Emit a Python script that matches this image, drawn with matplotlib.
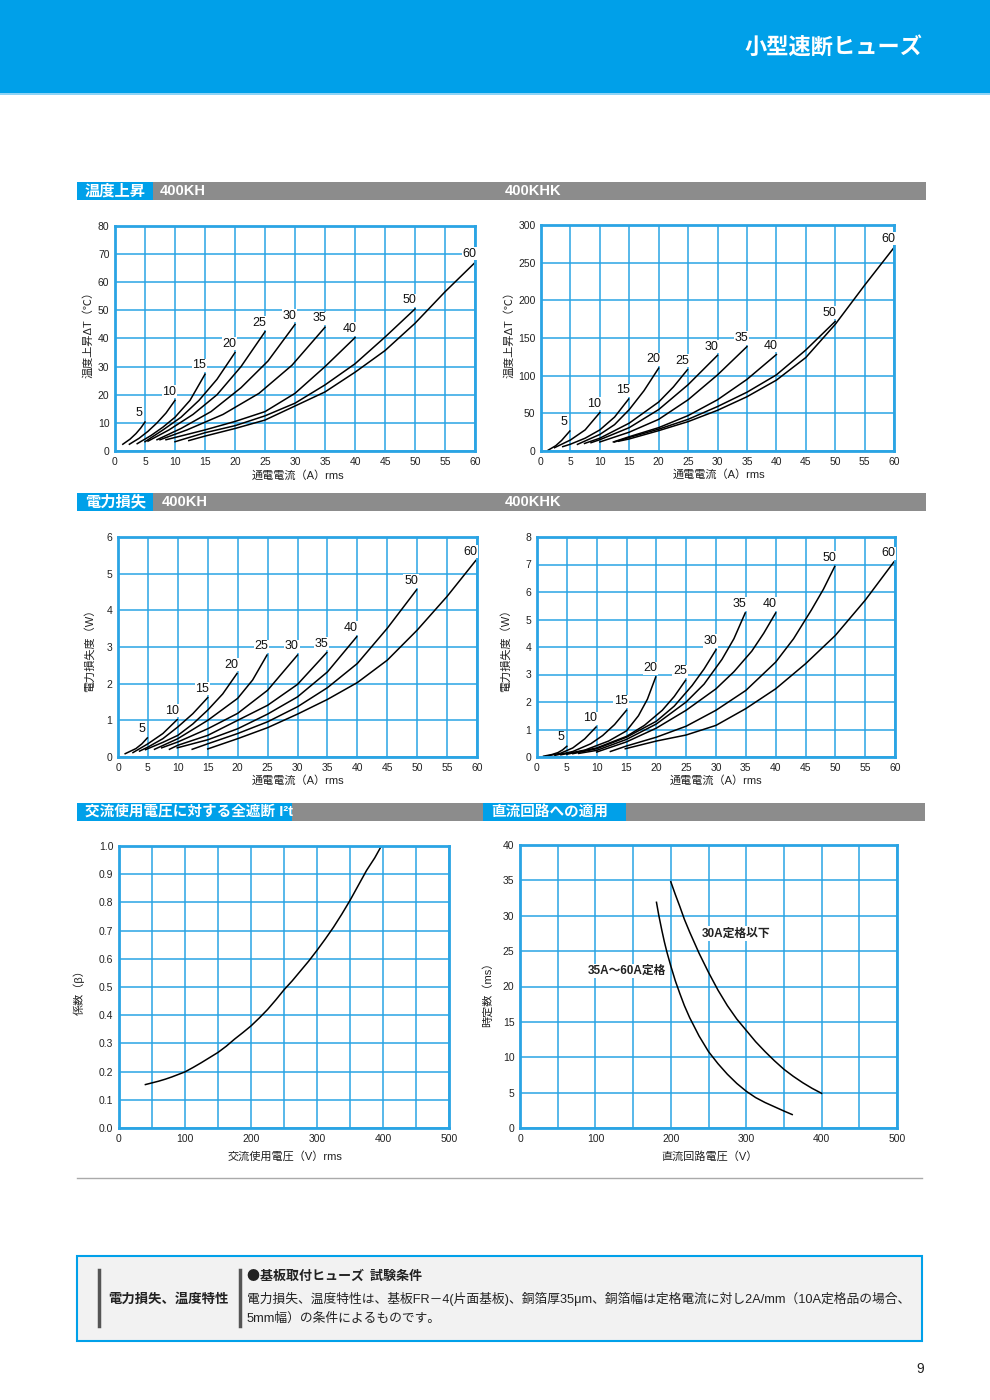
import numpy as np
import matplotlib
matplotlib.use('Agg')
from matplotlib import pyplot as plt
from matplotlib.patches import Rectangle
from matplotlib.ticker import FormatStrFormatter

plt.rcParams['font.family'] = ['Liberation Sans', 'Noto Sans CJK JP', 'DejaVu Sans']

W, H = 990, 1400
BLUE = '#00a0e9'
GRID = '#2aa4e4'
GRAY = '#8c8c8c'

# rating (A) -> (current A, value)
kh_temp = {
    5: ([1.3, 2.5, 3.5, 4.3, 5.0], [2.4, 4.2, 6.2, 8.2, 10.3]),
    10: ([2.4, 4, 5.5, 7, 8.5, 10], [2.4, 4.5, 7, 10, 13.5, 18]),
    15: ([3.7, 6, 8, 10, 12.5, 15], [2.6, 5.5, 8.5, 12, 18, 27.3]),
    20: ([5, 8, 11, 14, 17, 20], [3.3, 7.5, 12, 18, 25.5, 35]),
    25: ([5.5, 9, 13, 17, 21, 25], [3.5, 7.5, 13, 20, 30, 42.4]),
    30: ([7, 11, 16, 21, 25.5, 30], [4, 8, 14, 22.5, 32, 45]),
    35: ([7.5, 12, 18, 24, 29.5, 35], [4, 7.5, 13, 20.5, 30.5, 44]),
    40: ([8.5, 15, 20, 25, 30, 35, 40], [4, 7.5, 10.5, 14, 20.5, 30, 40.3]),
    50: ([10, 15, 20, 25, 30, 35, 40, 45, 50], [3.3, 6.5, 9, 12.5, 17, 23.5, 31, 40.5, 50.5]),
    60: ([12.3, 15, 20, 25, 30, 35, 40, 45, 50, 55, 60],
         [3.7, 5.3, 8, 11, 16, 21, 28, 35.7, 45.4, 56.6, 67]),
}

khk_temp = {
    5: ([1.2, 2.5, 3.5, 4.9], [1, 7, 14, 26.5]),
    10: ([2.3, 5, 7.5, 10], [4.4, 14.6, 28, 51]),
    15: ([3.7, 5, 7.5, 10, 12.5, 14.9], [5.8, 9, 17, 28, 45, 69]),
    20: ([6.2, 10, 12.5, 15, 17.5, 20], [8.8, 22, 35, 55, 80, 110]),
    25: ([7.4, 10, 15, 20, 22.5, 24.9], [10, 17, 37, 65, 85, 108]),
    30: ([8.5, 10, 15, 20, 25, 30], [11, 15, 31, 55, 88, 127]),
    35: ([10, 15, 20, 25, 30, 35], [12, 25, 42, 68, 101, 138.5]),
    40: ([12.3, 15, 20, 25, 30, 35, 40], [12, 19, 31, 47, 68, 95, 128]),
    50: ([12.5, 15, 20, 25, 30, 35, 40, 45, 50], [12, 18, 29, 42, 59, 78, 101, 134, 172]),
    60: ([13.2, 15, 20, 25, 30, 35, 40, 45, 50, 55, 60],
         [13, 16, 27, 39, 54, 72, 94, 124, 168, 220, 270]),
}

kh_power = {
    5: ([1.2, 3, 4, 4.9], [0.09, 0.23, 0.36, 0.52]),
    10: ([2.5, 5, 7.5, 9.9], [0.12, 0.36, 0.64, 1.02]),
    15: ([3.6, 5, 7.5, 10, 12.5, 15], [0.16, 0.27, 0.5, 0.82, 1.18, 1.62]),
    20: ([4.6, 7.5, 10, 12.5, 15, 17.5, 19.9], [0.2, 0.4, 0.59, 0.9, 1.28, 1.72, 2.28]),
    25: ([6.1, 10, 15, 20, 22.5, 24.9], [0.21, 0.5, 1.0, 1.6, 2.1, 2.78]),
    30: ([7.3, 10, 15, 20, 25, 30], [0.25, 0.41, 0.77, 1.19, 1.82, 2.78]),
    35: ([8.6, 10, 15, 20, 25, 30, 34.9], [0.21, 0.32, 0.59, 1.0, 1.41, 1.98, 2.85]),
    40: ([9.9, 15, 20, 25, 30, 35, 39.9], [0.25, 0.47, 0.77, 1.17, 1.64, 2.32, 3.28]),
    50: ([12.4, 15, 20, 25, 30, 35, 40, 45, 49.9],
         [0.21, 0.36, 0.64, 0.96, 1.37, 1.89, 2.55, 3.51, 4.56]),
    60: ([15, 20, 25, 30, 35, 40, 45, 50, 55, 59.8],
         [0.22, 0.5, 0.8, 1.17, 1.57, 2.03, 2.64, 3.46, 4.38, 5.36]),
}

khk_power = {
    5: ([1.1, 2.5, 3.5, 4.3, 5], [0.03, 0.09, 0.16, 0.26, 0.39]),
    10: ([2, 4, 6, 8, 9.9], [0.05, 0.14, 0.33, 0.66, 1.09]),
    15: ([3, 6, 9, 11, 13, 15], [0.06, 0.2, 0.48, 0.78, 1.18, 1.7]),
    20: ([4, 8, 12, 15, 17, 18.5, 19.9], [0.08, 0.25, 0.58, 0.95, 1.5, 2.1, 2.91]),
    25: ([5, 10, 15, 18, 21, 23, 24.9], [0.1, 0.33, 0.75, 1.15, 1.7, 2.2, 2.79]),
    30: ([6, 10, 15, 20, 23, 26, 28, 30], [0.12, 0.3, 0.72, 1.3, 1.85, 2.6, 3.2, 3.9]),
    35: ([7, 10, 15, 20, 25, 28, 31, 33, 34.9], [0.13, 0.24, 0.64, 1.2, 2.0, 2.65, 3.55, 4.3, 5.24]),
    40: ([10, 15, 20, 25, 30, 33, 36, 38, 40], [0.18, 0.55, 1.05, 1.7, 2.48, 3.1, 3.85, 4.5, 5.24]),
    50: ([12.3, 15, 20, 25, 30, 35, 40, 43, 46, 48, 49.9],
         [0.2, 0.4, 0.72, 1.12, 1.7, 2.42, 3.45, 4.3, 5.35, 6.1, 6.93]),
    60: ([14.8, 20, 25, 30, 35, 40, 45, 50, 55, 59.8],
         [0.3, 0.58, 0.8, 1.15, 1.76, 2.48, 3.39, 4.42, 5.7, 7.09]),
}

# AC voltage vs breaking I2t coefficient
ac_volt = [40, 50, 60, 70, 80, 90, 100, 112.5, 125, 137.5, 150, 162.5, 175, 187.5, 200,
           212.5, 225, 237.5, 250, 262.5, 275, 287.5, 300, 312.5, 325, 337.5, 350,
           362.5, 375, 387.5, 397.5]
ac_beta = [0.154, 0.16, 0.166, 0.173, 0.181, 0.19, 0.199, 0.215, 0.232, 0.25, 0.268,
           0.29, 0.315, 0.338, 0.362, 0.39, 0.42, 0.454, 0.49, 0.522, 0.557, 0.592,
           0.63, 0.67, 0.712, 0.758, 0.807, 0.86, 0.913, 0.958, 1.0]

# DC circuit voltage vs time constant
dc_volt_30a = [200, 206, 212, 218, 225, 237.5, 250, 262.5, 275, 287.5, 300, 312.5, 325,
               337.5, 350, 362.5, 375, 387.5, 400]
dc_tau_30a = [34.8, 33.0, 31.3, 29.5, 27.7, 24.7, 22.0, 19.5, 17.3, 15.4, 13.8, 12.2, 10.8,
              9.5, 8.3, 7.3, 6.4, 5.6, 4.9]
dc_volt_60a = [181, 184, 188, 191.5, 195, 200, 206, 212, 218, 225, 237.5, 250, 262.5, 275,
               287.5, 300, 312.5, 325, 337.5, 350, 361]
dc_tau_60a = [31.9, 30.1, 28.0, 26.3, 24.8, 22.9, 20.8, 19.0, 17.3, 15.6, 13.0, 10.8, 9.1,
              7.6, 6.3, 5.2, 4.3, 3.6, 3.0, 2.4, 1.9]


def box(l, t, r, b):
    return [l / W, 1 - b / H, (r - l) / W, (b - t) / H]


def frame(ax, xmax, ymax, xgrid, ygrid, xlab):
    ax.set_xlim(0, xmax)
    ax.set_ylim(0, ymax)
    ax.set_xticks(np.arange(0, xmax + 1e-9, xlab))
    ax.set_xticks(np.arange(0, xmax + 1e-9, xgrid), minor=True)
    ax.set_yticks(np.arange(0, ymax + 1e-9, ygrid))
    ax.grid(which='both', color=GRID, lw=1.1)
    ax.set_axisbelow(True)
    ax.tick_params(which='both', length=0, labelsize=7.5, pad=4, colors='#222222')
    for s in ax.spines.values():
        s.set_color(GRID)
        s.set_linewidth(2)


def curves(ax, data):
    for r, (x, y) in data.items():
        ax.plot(x, y, color='k', lw=1.1)
        ax.annotate(str(r), (x[-1], y[-1]), xytext=(-4, 2), textcoords='offset points',
                    ha='center', va='bottom', fontsize=9, color='#111111',
                    bbox=dict(boxstyle='square,pad=0.05', fc='white', ec='none'))


fig = plt.figure(figsize=(9.9, 14), dpi=100)

bg = fig.add_axes([0, 0, 1, 1])
bg.set_xlim(0, W)
bg.set_ylim(H, 0)
bg.axis('off')

# header band
bg.add_patch(Rectangle((0, 0), W, 93, color=BLUE, lw=0))
bg.add_patch(Rectangle((0, 93), W, 2, color='#8fd3f5', lw=0))
bg.text(923, 48, '小型速断ヒューズ', color='white', fontsize=16, fontweight='bold',
        ha='right', va='center')

# section bars
for top in (182, 493):
    bg.add_patch(Rectangle((77, top), 849, 18, color=GRAY, lw=0))
    bg.add_patch(Rectangle((77, top), 76, 18, color=BLUE, lw=0))
bg.text(85, 191, '温度上昇', color='white', fontsize=11, fontweight='bold', va='center')
bg.text(160, 191, '400KH', color='white', fontsize=10.5, fontweight='bold', va='center')
bg.text(505, 191, '400KHK', color='white', fontsize=10.5, fontweight='bold', va='center')
bg.text(85, 502, '電力損失', color='white', fontsize=11, fontweight='bold', va='center')
bg.text(162, 502, '400KH', color='white', fontsize=10.5, fontweight='bold', va='center')
bg.text(505, 502, '400KHK', color='white', fontsize=10.5, fontweight='bold', va='center')

bg.add_patch(Rectangle((77, 803), 848, 18, color=GRAY, lw=0))
bg.add_patch(Rectangle((77, 803), 215, 18, color=BLUE, lw=0))
bg.add_patch(Rectangle((483, 803), 143, 18, color=BLUE, lw=0))
bg.text(85, 812, '交流使用電圧に対する全遮断 I²t', color='white', fontsize=10.5,
        fontweight='bold', va='center')
bg.text(491, 812, '直流回路への適用', color='white', fontsize=10.5, fontweight='bold',
        va='center')

# axis titles
lab = dict(fontsize=8, color='#222222', ha='center', va='center')
bg.text(88, 332, '温度上昇ΔT（℃）', rotation=90, **lab)
bg.text(509, 332, '温度上昇ΔT（℃）', rotation=90, **lab)
bg.text(90, 648, '電力損失度（W）', rotation=90, **lab)
bg.text(506, 648, '電力損失度（W）', rotation=90, **lab)
bg.text(79, 990, '係数（β）', rotation=90, **lab)
bg.text(488, 992, '時定数（ms）', rotation=90, **lab)
bg.text(298, 476, '通電電流（A）rms', **lab)
bg.text(719, 475, '通電電流（A）rms', **lab)
bg.text(298, 781, '通電電流（A）rms', **lab)
bg.text(716, 781, '通電電流（A）rms', **lab)
bg.text(285, 1156, '交流使用電圧（V）rms', **lab)
bg.text(709, 1156, '直流回路電圧（V）', **lab)

# separator and note box
bg.plot([77, 922], [1178, 1178], color='#aaaaaa', lw=1)
bg.add_patch(Rectangle((77, 1256), 845, 85, fc='#f2f2f2', ec=BLUE, lw=1.5))
bg.plot([99, 99], [1270, 1326], color='#555555', lw=2.5)
bg.plot([240, 240], [1270, 1326], color='#555555', lw=2.5)
bg.text(108, 1300, '電力損失、温度特性', fontsize=9.6, fontweight='bold', va='center',
        color='#222222')
bg.text(247, 1276, '●基板取付ヒューズ  試験条件', fontsize=9.4, fontweight='bold',
        va='center', color='#222222', family=['Noto Sans CJK JP', 'DejaVu Sans'])
bg.text(247, 1299, '電力損失、温度特性は、基板FR－4(片面基板)、銅箔厚35μm、銅箔幅は定格電流に対し2A/mm（10A定格品の場合、',
        fontsize=9.2, va='center', color='#222222')
bg.text(247, 1319, '5mm幅）の条件によるものです。', fontsize=9.2, va='center', color='#222222')
bg.text(920, 1369, '9', fontsize=10, ha='center', va='center', color='#222222')

# temperature charts
ax1 = fig.add_axes(box(115, 226, 475, 451))
frame(ax1, 60, 80, 5, 10, 5)
curves(ax1, kh_temp)

ax2 = fig.add_axes(box(541, 225, 894, 451))
frame(ax2, 60, 300, 5, 50, 5)
curves(ax2, khk_temp)

# power loss charts
ax3 = fig.add_axes(box(118, 537, 477, 757))
frame(ax3, 60, 6, 5, 1, 5)
curves(ax3, kh_power)

ax4 = fig.add_axes(box(537, 537, 895, 757))
frame(ax4, 60, 8, 5, 1, 5)
curves(ax4, khk_power)

# AC breaking I2t
ax5 = fig.add_axes(box(119, 846, 449, 1128))
frame(ax5, 500, 1.0, 50, 0.1, 100)
ax5.yaxis.set_major_formatter(FormatStrFormatter('%.1f'))
ax5.plot(ac_volt, ac_beta, color='k', lw=1.1)

# DC circuit
ax6 = fig.add_axes(box(520, 845, 897, 1128))
frame(ax6, 500, 40, 50, 5, 100)
ax6.plot(dc_volt_30a, dc_tau_30a, color='k', lw=1.1)
ax6.plot(dc_volt_60a, dc_tau_60a, color='k', lw=1.1)
tb = dict(boxstyle='square,pad=0.1', fc='white', ec='none')
ax6.text(286, 27.5, '30A定格以下', fontsize=8.5, ha='center', va='center', bbox=tb,
         fontweight='bold', color='#222222')
ax6.text(142, 22.2, '35A～60A定格', fontsize=8.5, ha='center', va='center', bbox=tb,
         fontweight='bold', color='#222222')

fig.savefig('out.png', dpi=100)
